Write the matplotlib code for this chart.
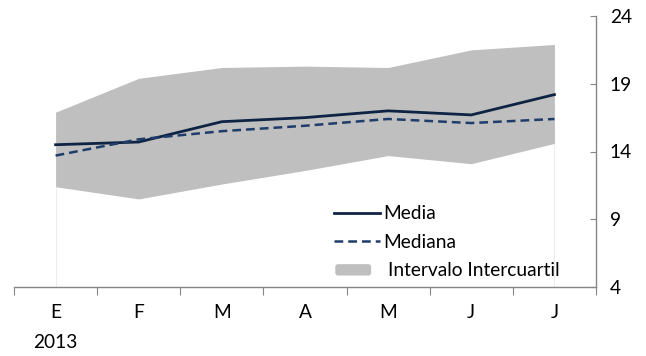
import matplotlib
matplotlib.use("Agg")
import matplotlib.pyplot as plt
from matplotlib.patches import Patch, FancyBboxPatch
from matplotlib.lines import Line2D
from matplotlib.legend_handler import HandlerPatch
import numpy as np

plt.rcParams['font.family'] = ['Lato', 'DejaVu Sans']

months = ["E", "F", "M", "A", "M", "J", "J"]
year_label = "2013"
q_low = [11.4, 10.5, 11.6, 12.6, 13.7, 13.1, 14.6]
q_high = [16.9, 19.4, 20.2, 20.3, 20.2, 21.5, 21.9]
media = [14.5, 14.7, 16.2, 16.5, 17.0, 16.7, 18.2]
mediana = [13.7, 14.9, 15.5, 15.9, 16.4, 16.1, 16.4]
y_ticks = [4, 9, 14, 19, 24]

FS = 13.8


def small_box(legend, orig_handle, xdescent, ydescent, width, height, fontsize):
    # legend swatch slightly narrower than the line keys, with soft corners
    return FancyBboxPatch((-xdescent + 1, -ydescent + 0.5), width * 0.78, height * 0.85,
                          boxstyle="round,pad=0,rounding_size=2")


fig = plt.figure(figsize=(6.46, 3.56), dpi=100)
ax = fig.add_axes([14 / 646, 1 - 287 / 356, (596 - 14) / 646, (287 - 16) / 356])

x = np.arange(len(months))
ax.fill_between(x, q_low, q_high, color="#BFBFBF", linewidth=0, zorder=1)
# faint edges of the stacked base area
ax.vlines([x[0], x[-1]], 4, [q_low[0], q_low[-1]], color="#EDEDED", linewidth=0.8, zorder=0)
ax.plot(x, media, color="#0F2444", linewidth=2.0, zorder=3)
ax.plot(x, mediana, color="#1F3D6B", linewidth=1.8, linestyle=(0, (3.5, 2)), zorder=3)

ax.set_xlim(-0.5, len(months) - 0.5)
ax.set_ylim(4, 24)

for side in ["left", "top"]:
    ax.spines[side].set_visible(False)
for side in ["right", "bottom"]:
    ax.spines[side].set_color("#868686")
    ax.spines[side].set_linewidth(1.0)

ax.yaxis.tick_right()
ax.set_yticks(y_ticks)
ax.tick_params(axis="y", direction="in", length=4, color="#868686", labelsize=FS, pad=10)

ax.set_xticks(np.arange(-0.5, len(months) + 0.5, 1.0))
ax.set_xticklabels([])
ax.tick_params(axis="x", direction="out", length=6, color="#868686")
ax.set_xticks(x, minor=True)
ax.set_xticklabels(months, minor=True)
ax.tick_params(axis="x", which="minor", length=0, labelsize=FS, pad=12)

ax.text(0, -0.205, year_label, transform=ax.get_xaxis_transform(), ha="center",
        va="center", fontsize=FS)

handles = [
    Line2D([], [], color="#0F2444", linewidth=2.0),
    Line2D([], [], color="#1F3D6B", linewidth=1.8, linestyle=(0, (3.5, 2))),
    Patch(facecolor="#BFBFBF", edgecolor="none"),
]
leg = ax.legend(handles, ["Media", "Mediana", "Intervalo Intercuartil"],
                loc="lower left", bbox_to_anchor=(0.52, -0.035), frameon=False,
                fontsize=FS, handlelength=2.4, handletextpad=0.2, labelspacing=0.6,
                handler_map={Patch: HandlerPatch(patch_func=small_box)})
# the shaded key's label sits a little further right than the line keys
leg.get_texts()[2].set_x(4)

fig.savefig("out.png", dpi=100)
